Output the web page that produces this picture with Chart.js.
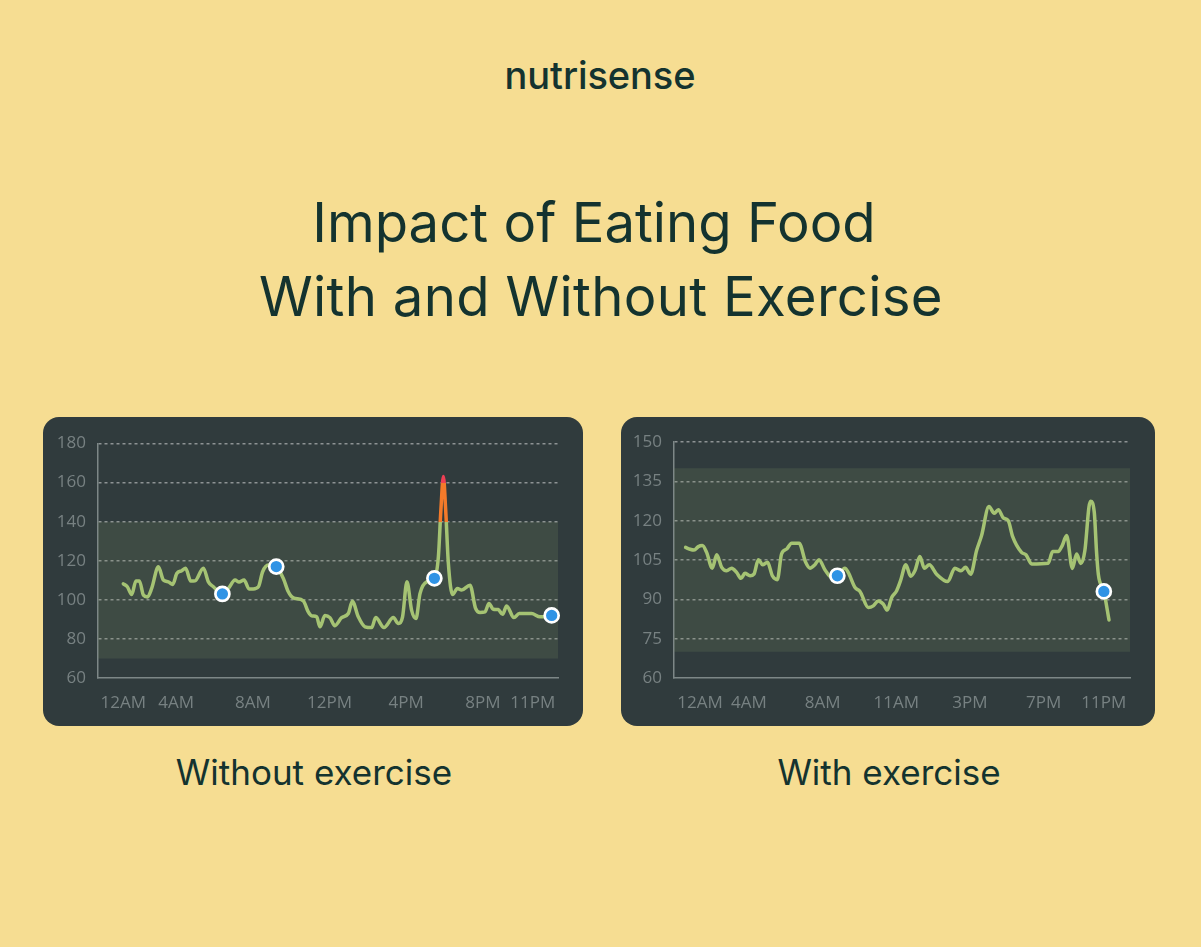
<!DOCTYPE html>
<html>
<head>
<meta charset="utf-8">
<title>Impact of Eating Food With and Without Exercise</title>
<script src="https://cdn.jsdelivr.net/npm/chart.js@4"></script>
<style>
    html, body { margin: 0; padding: 0; background: #f6dd92; }
    body { position: relative; width: 1201px; height: 947px; overflow: hidden; color: #14332f; font-family: Inter, sans-serif; }
    .txt { position: absolute; white-space: nowrap; text-align: center; transform: translateX(-50%); }
    .logo { left: 600px; top: 52px; font-size: 38px; line-height: 46px; font-weight: 500; letter-spacing: -0.1px; }
    .title { font-size: 54.5px; line-height: 64px; font-weight: 400; }
    .caption { top: 750px; font-size: 35px; line-height: 44px; font-weight: 400; }
    .card { position: absolute; top: 417px; height: 309px; background: #303b3d; border-radius: 16px; }
    .card canvas { position: absolute; left: 0; top: 0; }
</style>
</head>
<body>
<div class="txt logo">nutrisense</div>
<div class="txt title" style="top:190px;left:594px">Impact of Eating Food</div>
<div class="txt title" style="top:264px;left:601px;letter-spacing:0.3px">With and Without Exercise</div>

<div class="card" style="left:43px;width:540px"><canvas id="leftChart"></canvas></div>
<div class="card" style="left:621px;width:534px"><canvas id="rightChart"></canvas></div>

<div class="txt caption" style="left:314px">Without exercise</div>
<div class="txt caption" style="left:889px">With exercise</div>

<script>
// Without exercise
const leftHours = [1.24,1.45,1.68,1.90,2.08,2.29,2.50,2.72,3.07,3.33,3.59,3.82,4.03,4.29,4.49,4.76,4.98,5.42,5.68,5.94,6.41,6.72,7.07,7.28,7.54,7.80,8.02,8.29,8.51,8.81,9.22,9.59,9.85,10.11,10.63,10.89,11.07,11.33,11.50,11.76,12.02,12.28,12.63,12.98,13.19,13.50,13.85,14.20,14.41,14.84,15.33,15.59,15.81,16.04,16.28,16.51,16.72,17.07,17.47,17.68,17.81,17.94,18.06,18.20,18.42,18.67,18.89,19.33,19.62,19.85,20.11,20.32,20.54,20.80,21.03,21.24,21.62,21.90,22.54,22.98,23.59];
const leftGlucose = [108.2,106.7,102.7,109.7,109.7,102.4,101.5,105.8,116.9,110.1,109.2,107.9,113.5,114.9,116.1,109.6,109.7,116.2,109.2,106.7,102.9,105.8,110.1,109.1,110.1,105.6,105.6,106.7,114.4,117.8,116.9,110.9,104.1,101,99.5,93.8,91.8,91.3,86.2,92,90.9,86.8,90.9,93,99.3,91.3,86.2,85.8,90.9,85.8,90.9,87.9,91.3,109.2,94.7,90.4,103.2,109.2,110.9,122.1,146,163.1,146,118.6,102.7,105.8,105,107.5,95.6,93.5,93.8,98.1,95.2,95,92.6,96.9,90.9,93,93,91.3,91.8];
const leftMarkerHours = [6.41,9.22,17.47,23.59];
const leftMarkerValues = [103,117,111,92];
const leftTickHours = [1.24,4,8,12,16,20,22.6];
const leftTickLabels = ['12AM','4AM','8AM','12PM','4PM','8PM','11PM'];

// With exercise
const rightHours = [0.56,0.80,1.02,1.25,1.47,1.70,2.01,2.25,2.52,2.79,3.06,3.33,3.57,3.78,4.06,4.27,4.51,4.74,5.01,5.27,5.54,5.77,6.05,6.32,6.72,7.08,7.31,7.58,7.80,8.13,8.49,8.80,9.21,9.39,9.76,10.03,10.48,10.75,11.02,11.29,11.51,11.75,12.02,12.23,12.52,12.78,13.01,13.28,13.52,13.79,14.19,14.79,15.18,15.51,15.76,16.04,16.36,16.63,17.03,17.32,17.54,17.81,18.08,18.32,18.80,19.04,19.35,20.25,20.49,20.79,21.01,21.25,21.56,21.79,22.02,22.24,22.46,22.55,22.75,22.88,22.97,23.27,23.55];
const rightGlucose = [109.8,109.1,108.8,110.1,110.5,107.9,101.9,107,102.2,100.9,101.9,100.3,98,99.9,99,99.6,105.1,103.2,104.1,99,97.5,107.3,109.2,111.4,111.4,104.1,101.9,103.2,105.1,101.2,98.4,99,101.9,100.3,94.5,93,86.9,87.5,89.4,88.2,85.9,90.7,93.3,97.1,103.2,98.8,100.9,106.3,101.9,103.2,99.6,96.8,101.9,100.9,102.2,99.6,108.6,114.3,125.4,122.8,124.2,121.1,120,113.9,107.9,107,103.5,103.8,108.2,108.2,110.5,114.3,101.8,107.3,103.7,108.6,125.1,127.4,123.2,107.3,99.6,93,82.1];
const rightMarkerHours = [8.80,23.27];
const rightMarkerValues = [99,93];
const rightTickHours = [1.34,4,8,12,16,20,23.27];
const rightTickLabels = ['12AM','4AM','8AM','11AM','3PM','7PM','11PM'];

const targetLow = 70;
const targetHigh = 140;

const GREEN = '#a5c373';
const ORANGE = '#f47a2a';
const RED = '#ee3f54';
const BAND = 'rgba(118,139,101,0.2)'; // see-through so the grid stays visible
const AXIS = '#7d8787';
const TICK = '#778182';

function toPoints(xs, ys) {
    return xs.map((x, i) => ({ x: x, y: ys[i] }));
}

// Line colour follows the glucose level, hard stops at 140 and 160
function lineColor(context) {
    const chart = context.chart;
    if (!chart.chartArea) return GREEN;
    const y = chart.scales.y;
    const top = y.getPixelForValue(y.max);
    const bottom = y.getPixelForValue(y.min);
    const grad = chart.ctx.createLinearGradient(0, top, 0, bottom);
    const stop = v => (y.getPixelForValue(v) - top) / (bottom - top);
    if (y.max > 160) {
        grad.addColorStop(0, RED);
        grad.addColorStop(stop(160), RED);
        grad.addColorStop(stop(160), ORANGE);
        grad.addColorStop(stop(140), ORANGE);
        grad.addColorStop(stop(140), GREEN);
    } else {
        grad.addColorStop(0, GREEN);
    }
    grad.addColorStop(1, GREEN);
    return grad;
}

function makeChart(id, cfg) {
    const el = document.getElementById(id);
    el.width = cfg.width;
    el.height = 309;
    el.style.width = cfg.width + 'px';
    el.style.height = '309px';

    return new Chart(el.getContext('2d'), {
        type: 'line',
        data: {
            datasets: [
                {
                    data: toPoints(cfg.hours, cfg.values),
                    borderColor: lineColor,
                    borderWidth: 3.5,
                    pointRadius: 0,
                    cubicInterpolationMode: 'monotone',
                    borderCapStyle: 'round',
                    borderJoinStyle: 'round',
                    fill: false,
                    clip: false,
                    order: 2
                },
                {
                    data: toPoints(cfg.markerHours, cfg.markerValues),
                    showLine: false,
                    pointRadius: 7,
                    pointBorderWidth: 2.7,
                    pointBackgroundColor: '#2f93e5',
                    pointBorderColor: '#ffffff',
                    clip: false,
                    order: 1
                },
                {
                    // target range band, top edge
                    data: toPoints([cfg.xMin, cfg.xMax], [targetHigh, targetHigh]),
                    pointRadius: 0,
                    borderWidth: 0,
                    backgroundColor: BAND,
                    fill: { value: targetLow },
                    order: 3
                }
            ]
        },
        options: {
            responsive: false,
            animation: false,
            devicePixelRatio: 1,
            layout: { padding: { top: cfg.padTop, right: cfg.padRight, left: 0, bottom: 0 } },
            plugins: { legend: { display: false }, tooltip: { enabled: false }, title: { display: false } },
            scales: {
                x: {
                    type: 'linear',
                    min: cfg.xMin,
                    max: cfg.xMax,
                    afterBuildTicks: axis => { axis.ticks = cfg.tickHours.map(v => ({ value: v })); },
                    afterFit: axis => { axis.height = 48; },
                    grid: { display: false },
                    border: { color: AXIS, width: 1.5 },
                    ticks: {
                        autoSkip: false,
                        maxRotation: 0,
                        padding: 7,
                        color: TICK,
                        font: { family: '"Open Sans"', size: 17 },
                        callback: (v, i) => cfg.tickLabels[i]
                    }
                },
                y: {
                    min: cfg.yMin,
                    max: cfg.yMax,
                    afterFit: axis => { axis.width = cfg.yWidth; },
                    grid: {
                        drawTicks: false,
                        color: c => c.tick.value === cfg.yMin ? 'transparent' : 'rgba(255,255,255,0.45)',
                        lineWidth: 1.5
                    },
                    border: { color: AXIS, width: 1.5, dash: [3, 3] },
                    ticks: {
                        stepSize: cfg.yStep,
                        padding: 12,
                        color: TICK,
                        font: { family: '"Open Sans"', size: 17 }
                    }
                }
            }
        }
    });
}

makeChart('leftChart', {
    width: 540, yWidth: 55, padTop: 26.5, padRight: 25,
    hours: leftHours, values: leftGlucose,
    markerHours: leftMarkerHours, markerValues: leftMarkerValues,
    tickHours: leftTickHours, tickLabels: leftTickLabels,
    xMin: -0.08, xMax: 23.92, yMin: 60, yMax: 180, yStep: 20
});

makeChart('rightChart', {
    width: 534, yWidth: 53, padTop: 25, padRight: 25,
    hours: rightHours, values: rightGlucose,
    markerHours: rightMarkerHours, markerValues: rightMarkerValues,
    tickHours: rightTickHours, tickLabels: rightTickLabels,
    xMin: -0.07, xMax: 24.69, yMin: 60, yMax: 150, yStep: 15
});
</script>
</body>
</html>
